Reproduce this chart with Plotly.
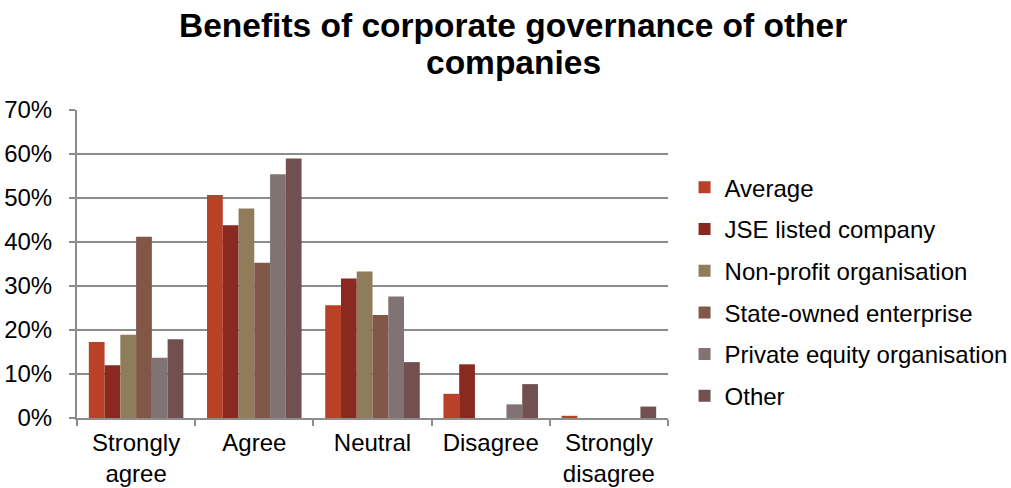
import plotly.graph_objects as go

categories = ["Strongly<br>agree", "Agree", "Neutral", "Disagree", "Strongly<br>disagree"]

average = [17.3, 50.7, 25.6, 5.5, 0.5]
jse_listed = [12.0, 43.8, 31.7, 12.2, 0.0]
non_profit = [18.9, 47.6, 33.3, 0.0, 0.0]
state_owned = [41.2, 35.3, 23.4, 0.0, 0.0]
private_equity = [13.7, 55.4, 27.6, 3.1, 0.0]
other = [17.9, 59.0, 12.7, 7.7, 2.6]

series = [
    ("Average", average, "#B94128"),
    ("JSE listed company", jse_listed, "#8A291F"),
    ("Non-profit organisation", non_profit, "#8F7C5B"),
    ("State-owned enterprise", state_owned, "#815747"),
    ("Private equity organisation", private_equity, "#817373"),
    ("Other", other, "#735050"),
]

y_ticks = [0, 10, 20, 30, 40, 50, 60, 70]
y_tick_labels = [f"{v}%" for v in y_ticks]

title_lines = ["Benefits of corporate governance of other", "companies"]

fig = go.Figure()
for i, (name, vals, color) in enumerate(series):
    fig.add_trace(go.Bar(
        name=name, x=categories, y=vals,
        marker=dict(color=color, line=dict(width=0)),
        legendgroup=str(i),
    ))

font_family = "Liberation Sans, Arial, sans-serif"

# Two-line bold title, each line placed separately for tight line spacing
for line, ypos in zip(title_lines, [1.275, 1.153]):
    fig.add_annotation(
        text=f"<b>{line}</b>", xref="paper", yref="paper",
        x=(513 - 77) / 591, y=ypos, xanchor="center", yanchor="middle",
        showarrow=False,
        font=dict(family=font_family, size=33.5, color="#000000"),
    )

fig.update_layout(
    width=1011, height=488,
    margin=dict(l=77, r=343, t=110, b=70, autoexpand=False),
    paper_bgcolor="white", plot_bgcolor="white",
    barmode="group", bargap=0.2, bargroupgap=0,
    font=dict(family=font_family, size=24, color="#000000"),
    legend=dict(
        x=1.028, xanchor="left", y=0.41, yanchor="middle",
        font=dict(family=font_family, size=24, color="#000000"),
        traceorder="grouped", tracegroupgap=7.5,
        itemwidth=30, bgcolor="rgba(0,0,0,0)",
    ),
    showlegend=True,
)

fig.update_xaxes(
    automargin=False,
    showline=True, linecolor="#8C8C8C", linewidth=2,
    ticks="outside", tickson="boundaries", ticklen=6,
    tickcolor="#8C8C8C", tickwidth=2,
    ticklabelstandoff=2,
    showgrid=False,
    tickfont=dict(family=font_family, size=24, color="#000000"),
)

fig.update_yaxes(
    automargin=False,
    range=[0, 70], tickvals=y_ticks, ticktext=y_tick_labels,
    showline=True, linecolor="#8C8C8C", linewidth=2,
    ticks="outside", ticklen=6, tickcolor="#8C8C8C", tickwidth=2,
    ticklabelstandoff=12,
    showgrid=True, gridcolor="#8C8C8C", gridwidth=2,
    zeroline=False,
    tickfont=dict(family=font_family, size=24, color="#000000"),
)

fig.write_html("out.html")
